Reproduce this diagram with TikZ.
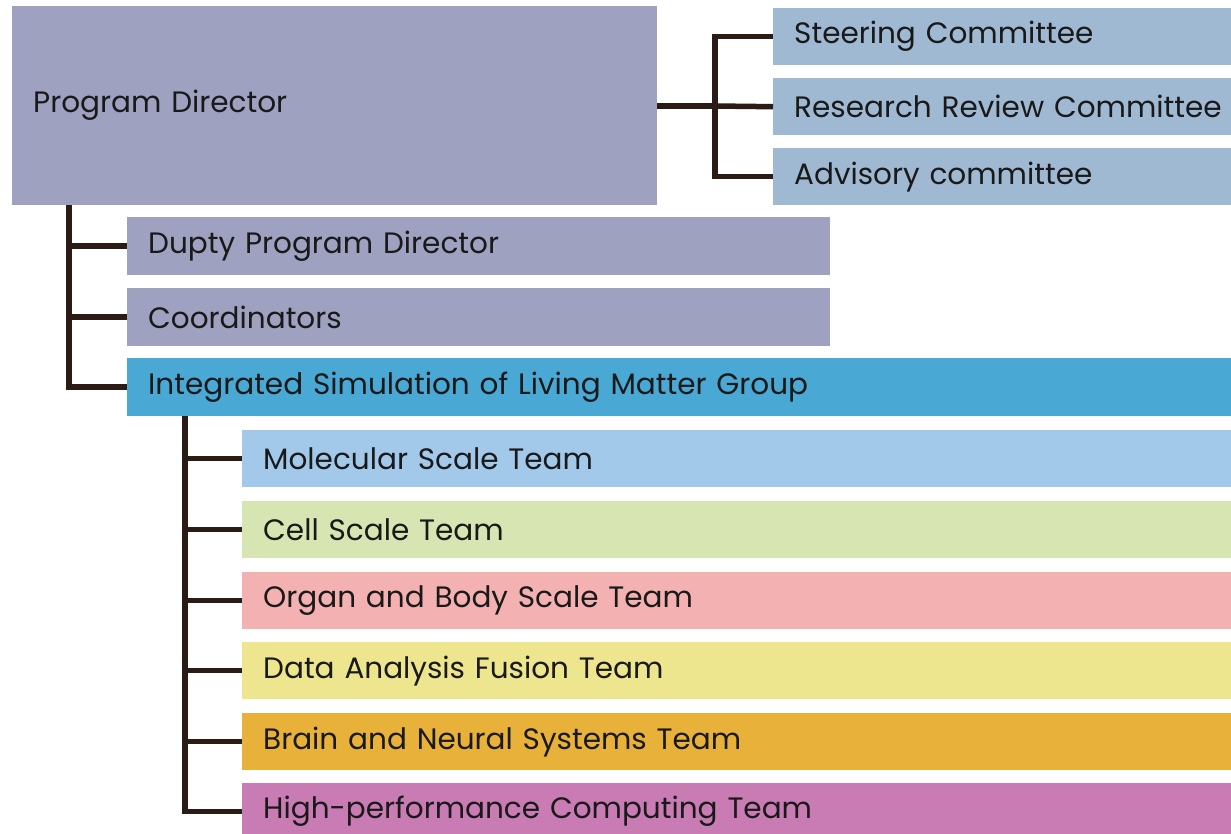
\documentclass[tikz,border=0pt]{standalone}
\usepackage{fontspec}
\setmainfont{Poppins}
\definecolor{pdcol}{HTML}{9EA2C0}
\definecolor{comcol}{HTML}{A0B9D3}
\definecolor{grpcol}{HTML}{4AA8D4}
\definecolor{molcol}{HTML}{A3C9EA}
\definecolor{cellcol}{HTML}{D6E5B1}
\definecolor{orgcol}{HTML}{F3B1B1}
\definecolor{datcol}{HTML}{EEE68F}
\definecolor{bracol}{HTML}{E8B23A}
\definecolor{hpccol}{HTML}{C97BB4}
\definecolor{linecol}{HTML}{2A1C14}
\begin{document}
\begin{tikzpicture}[x=1pt,y=-1pt,
  box/.style={anchor=north west,inner xsep=21pt,inner ysep=0pt,align=left,
    font=\fontsize{29.5}{32}\selectfont,text=black!90},
  tie/.style={draw=linecol,line width=5.5pt}]
\useasboundingbox (0,0) rectangle (1231,833);
\clip (0,0) rectangle (1231,833);
\fill[white] (0,0) rectangle (1231,833);
% boxes
\node[box,fill=pdcol,minimum height=199pt,text width=603pt] (pd) at (12,6) {Program Director};
\node[box,fill=comcol,minimum height=57pt,text width=460pt] (sc) at (773,8) {Steering Committee};
\node[box,fill=comcol,minimum height=57pt,text width=460pt] (rr) at (773,78) {Research Review Committee};
\node[box,fill=comcol,minimum height=57pt,text width=460pt] (ac) at (773,148) {Advisory committee};
\node[box,fill=pdcol,minimum height=58pt,text width=661pt] (dp) at (127,217) {Dupty Program Director};
\node[box,fill=pdcol,minimum height=58pt,text width=661pt] (co) at (127,288) {Coordinators};
\node[box,fill=grpcol,minimum height=58pt,text width=1062pt] (ig) at (127,358) {Integrated Simulation of Living Matter Group};
\node[box,fill=molcol,minimum height=57pt,text width=947pt] (mo) at (242,430) {Molecular Scale Team};
\node[box,fill=cellcol,minimum height=57pt,text width=947pt] (ce) at (242,501) {Cell Scale Team};
\node[box,fill=orgcol,minimum height=57pt,text width=947pt] (or) at (242,572) {Organ and Body Scale Team};
\node[box,fill=datcol,minimum height=57pt,text width=947pt] (da) at (242,642) {Data Analysis Fusion Team};
\node[box,fill=bracol,minimum height=57pt,text width=947pt] (br) at (242,713) {Brain and Neural Systems Team};
\node[box,fill=hpccol,minimum height=57pt,text width=947pt] (hp) at (242,783) {High-performance Computing Team};
% junction coordinates
\coordinate (j1) at (715,106);
\coordinate (j2) at (69,205);
\coordinate (j3) at (185,416);
% connectors
\draw[tie] (pd.east |- j1) -- (j1);
\draw[tie] (sc.west) -| (j1) |- (ac.west);
\draw[tie] (j1) -- (rr.west);
\draw[tie] (j2) |- (ig.west);
\draw[tie] (j2 |- dp.west) -- (dp.west);
\draw[tie] (j2 |- co.west) -- (co.west);
\draw[tie] (j3) |- (hp.west);
\foreach \n in {mo,ce,or,da,br}{\draw[tie] (j3 |- \n.west) -- (\n.west);}
\end{tikzpicture}
\end{document}
